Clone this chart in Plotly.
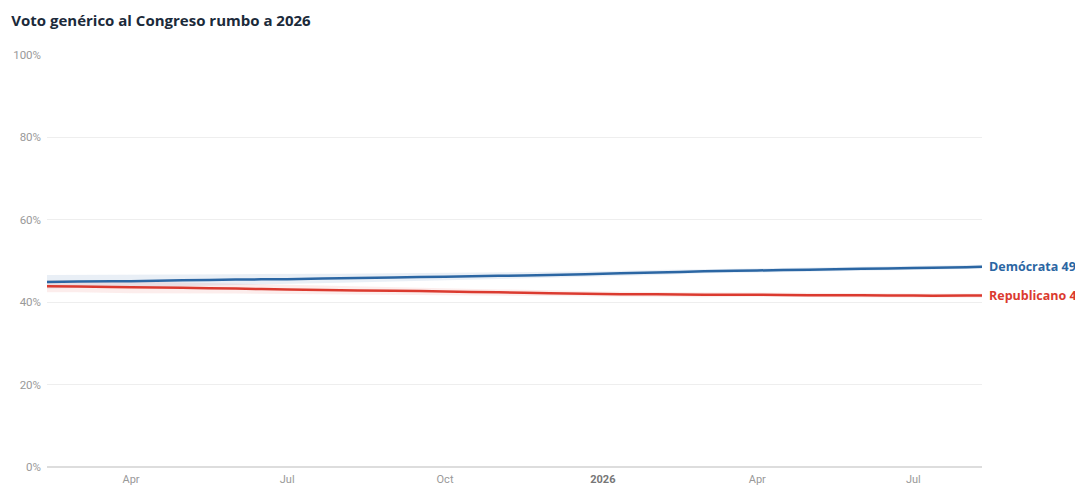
"""Generic congressional ballot toward 2026."""

import plotly.graph_objects as go

dates = ['2025-02-11', '2025-03-01', '2025-04-01', '2025-05-01', '2025-06-01',
         '2025-07-01', '2025-08-01', '2025-09-01', '2025-10-01', '2025-11-01',
         '2025-12-01', '2026-01-01', '2026-02-01', '2026-03-01', '2026-04-01',
         '2026-05-01', '2026-06-01', '2026-07-01', '2026-08-01', '2026-08-10']

dem = [44.9, 45.0, 45.1, 45.3, 45.5, 45.6, 45.8, 46.0, 46.2, 46.4,
       46.6, 46.9, 47.2, 47.5, 47.7, 47.9, 48.1, 48.3, 48.5, 48.6]
dem_hi = [46.6, 46.6, 46.6, 46.7, 46.8, 46.8, 46.9, 47.0, 47.1, 47.2,
          47.3, 47.5, 47.8, 48.0, 48.2, 48.4, 48.6, 48.8, 49.0, 49.1]
dem_lo = [43.3, 43.4, 43.6, 43.9, 44.2, 44.4, 44.7, 45.0, 45.3, 45.6,
          45.9, 46.3, 46.6, 47.0, 47.2, 47.4, 47.6, 47.8, 48.0, 48.1]

rep = [43.9, 43.8, 43.6, 43.5, 43.3, 43.1, 42.9, 42.8, 42.6, 42.4,
       42.2, 42.0, 41.9, 41.8, 41.8, 41.7, 41.7, 41.6, 41.6, 41.6]
rep_hi = [45.4, 45.2, 45.0, 44.8, 44.5, 44.2, 43.9, 43.7, 43.4, 43.1,
          42.9, 42.6, 42.5, 42.4, 42.3, 42.2, 42.2, 42.1, 42.1, 42.1]
rep_lo = [42.4, 42.4, 42.2, 42.2, 42.1, 42.0, 41.9, 41.9, 41.8, 41.7,
          41.5, 41.4, 41.3, 41.2, 41.3, 41.2, 41.2, 41.1, 41.1, 41.1]

tick_dates = ['2025-04-01', '2025-07-01', '2025-10-01', '2026-01-01', '2026-04-01', '2026-07-01']
tick_labels = ['Apr', 'Jul', 'Oct', '<span style="color:#777777"><b>2026</b></span>', 'Apr', 'Jul']

y_ticks = [0, 20, 40, 60, 80, 100]
y_labels = [f'{v}%' for v in y_ticks]

series = [
    ('Demócrata', dem, dem_lo, dem_hi, '#2b66a3', 'rgba(43,102,163,0.10)'),
    ('Republicano', rep, rep_lo, rep_hi, '#db3a2f', 'rgba(219,58,47,0.09)'),
]

fig = go.Figure()
for name, vals, lo, hi, color, fill in series:
    fig.add_trace(go.Scatter(x=dates, y=hi, mode='lines', line=dict(width=0),
                             hoverinfo='skip', showlegend=False))
    fig.add_trace(go.Scatter(x=dates, y=lo, mode='lines', line=dict(width=0),
                             fill='tonexty', fillcolor=fill,
                             hoverinfo='skip', showlegend=False))
for name, vals, lo, hi, color, fill in series:
    fig.add_trace(go.Scatter(x=dates, y=vals, mode='lines', name=name,
                             line=dict(color=color, width=2.5, shape='spline'),
                             showlegend=False))
    fig.add_annotation(x=dates[-1], y=vals[-1], xref='x', yref='y',
                       text=f'<b>{name} {round(vals[-1])}%</b>',
                       xanchor='left', yanchor='middle', xshift=5, showarrow=False,
                       font=dict(family='Open Sans', size=12.5, color=color))

# page body has an 8px margin, so the figure is sized to sit inside the window
fig.update_layout(
    width=1075, height=492,
    margin=dict(l=39, r=101, t=47, b=33),
    paper_bgcolor='white', plot_bgcolor='white',
    title=dict(text='<b>Voto genérico al Congreso rumbo a 2026</b>',
               x=0.003, xanchor='left', y=0.974, yanchor='middle',
               font=dict(family='Open Sans', size=15, color='#1b2a3a')),
    font=dict(family='Roboto', size=11, color='#999999'),
    hovermode='x unified',
)
fig.update_xaxes(range=['2025-02-11', '2026-08-10'], tickvals=tick_dates, ticktext=tick_labels,
                 showgrid=False, zeroline=False, showline=False, ticks='',
                 ticklabelstandoff=4, automargin=False,
                 tickfont=dict(family='Roboto', size=11, color='#999999'))
fig.update_yaxes(range=[0, 100], tickvals=y_ticks, ticktext=y_labels,
                 showgrid=True, gridcolor='#eeeeee', gridwidth=1,
                 zeroline=True, zerolinecolor='#dddddd', zerolinewidth=2,
                 showline=False, ticks='', ticklabelstandoff=5, automargin=False,
                 tickfont=dict(family='Roboto', size=11.5, color='#999999'))

fig.write_html('out.html')
